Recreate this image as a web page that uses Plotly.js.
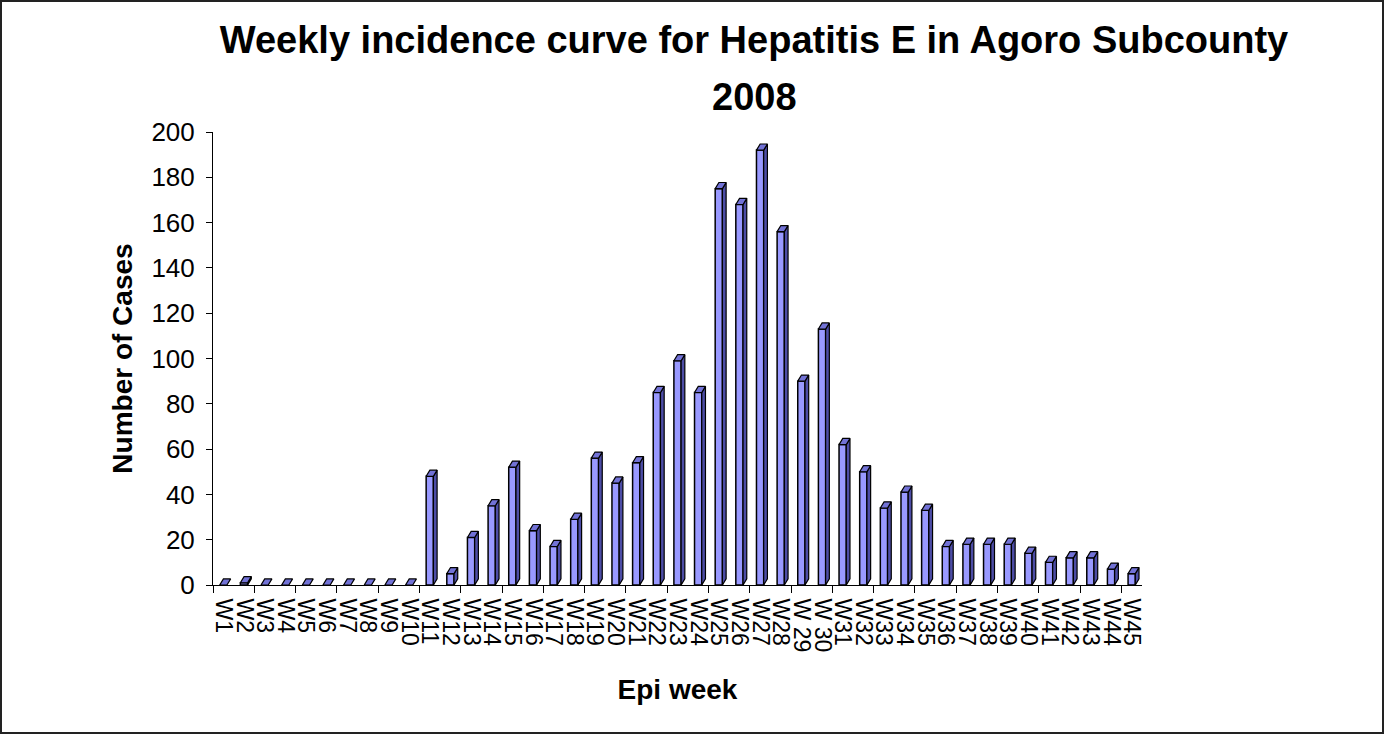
<!DOCTYPE html>
<html>
<head>
<meta charset="utf-8">
<script src="https://cdn.plot.ly/plotly-3.0.1.min.js"></script>
<style>
html,body{margin:0;padding:0;background:#fff;}
#chart{width:1380px;height:730px;border:2px solid #222;}
</style>
</head>
<body>
<div id="chart"></div>
<script>
// Data
const weeks = ["W1","W2","W3","W4","W5","W6","W7","W8","W9","W10",
  "W11","W12","W13","W14","W15","W16","W17","W18","W19","W20",
  "W21","W22","W23","W24","W25","W26","W27","W28","W 29","W 30",
  "W31","W32","W33","W34","W35","W36","W37","W38","W39","W40",
  "W41","W42","W43","W44","W45"];
const cases = [0,1,0,0,0,0,0,0,0,0,
  48,5,21,35,52,24,17,29,56,45,
  54,85,99,85,175,168,192,156,90,113,
  62,50,34,41,33,17,18,18,18,14,
  10,12,12,7,5];
const yTicks = [0,20,40,60,80,100,120,140,160,180,200];
const titleLine1 = "Weekly incidence curve for Hepatitis E in Agoro Subcounty";
const titleLine2 = "2008";

// Geometry (styling of the 3D look)
const barW = 0.35;     // front width, in category units
const depthX = 0.18;   // depth shift, category units
const depthY = 2.7;    // depth shift, value units

const pos = weeks.map((_, i) => i + 1);

// side faces and top caps, built from the data
const sideX = [], sideY = [], capX = [], capY = [];
pos.forEach((p, i) => {
  const v = cases[i];
  const r = p + barW / 2, l = p - barW / 2;
  if (v > 0) {
    sideX.push(r, r + depthX, r + depthX, r, r, null);
    sideY.push(0, depthY, v + depthY, v, 0, null);
  }
  capX.push(l, r, r + depthX, l + depthX, l, null);
  capY.push(v, v, v + depthY, v + depthY, v, null);
});

const traces = [
  {
    type: "bar", x: pos, y: cases, width: barW,
    marker: {color: "#9999FF", line: {color: "#000", width: 1.5}},
    hoverinfo: "x+y", showlegend: false
  },
  {
    type: "scatter", mode: "lines", x: sideX, y: sideY,
    fill: "toself", fillcolor: "#4D4DA6",
    line: {color: "#000", width: 1.2}, hoverinfo: "skip", showlegend: false
  },
  {
    type: "scatter", mode: "lines", x: capX, y: capY,
    fill: "toself", fillcolor: "#7272D6",
    line: {color: "#000", width: 1.2}, hoverinfo: "skip", showlegend: false
  }
];

const font = "Liberation Sans, Arial, sans-serif";
const layout = {
  width: 1380, height: 730,
  paper_bgcolor: "#fff", plot_bgcolor: "#fff",
  margin: {l: 211, r: 240, t: 130, b: 147},
  font: {family: font, color: "#000"},
  title: {
    text: "<b>" + titleLine1 + "</b>",
    font: {family: font, size: 38, color: "#000"},
    x: 752 / 1380, xref: "container", xanchor: "center",
    y: 1 - 38 / 730, yref: "container", yanchor: "middle"
  },
  annotations: [{
    text: "<b>" + titleLine2 + "</b>", showarrow: false,
    xref: "paper", yref: "paper", x: 541 / 929, y: 1 + 35 / 453,
    xanchor: "center", yanchor: "middle",
    font: {family: font, size: 38, color: "#000"}
  }],
  xaxis: {
    range: [0.5, 45.5], tickmode: "array", tickvals: pos, ticktext: weeks,
    tickangle: 90, ticks: "", showgrid: false, zeroline: false,
    showline: true, linecolor: "#000", linewidth: 1,
    tickfont: {family: font, size: 23, color: "#000"},
    ticklabelstandoff: 8,
    minor: {tick0: 0.5, dtick: 2, ticks: "outside", ticklen: 7, tickcolor: "#000", tickwidth: 1, showgrid: false},
    title: {text: "<b>Epi week</b>", font: {family: font, size: 28, color: "#000"}, standoff: 28}
  },
  yaxis: {
    range: [0, 200], tickmode: "array", tickvals: yTicks,
    ticks: "outside", ticklen: 6, tickcolor: "#000",
    showgrid: false, zeroline: false,
    showline: true, linecolor: "#000", linewidth: 1,
    tickfont: {family: font, size: 26, color: "#000"},
    ticklabelstandoff: 6,
    title: {text: "<b>Number of Cases</b>", font: {family: font, size: 28, color: "#000"}, standoff: 10}
  },
  bargap: 0
};

Plotly.newPlot("chart", traces, layout, {displayModeBar: false, staticPlot: true});
</script>
</body>
</html>
